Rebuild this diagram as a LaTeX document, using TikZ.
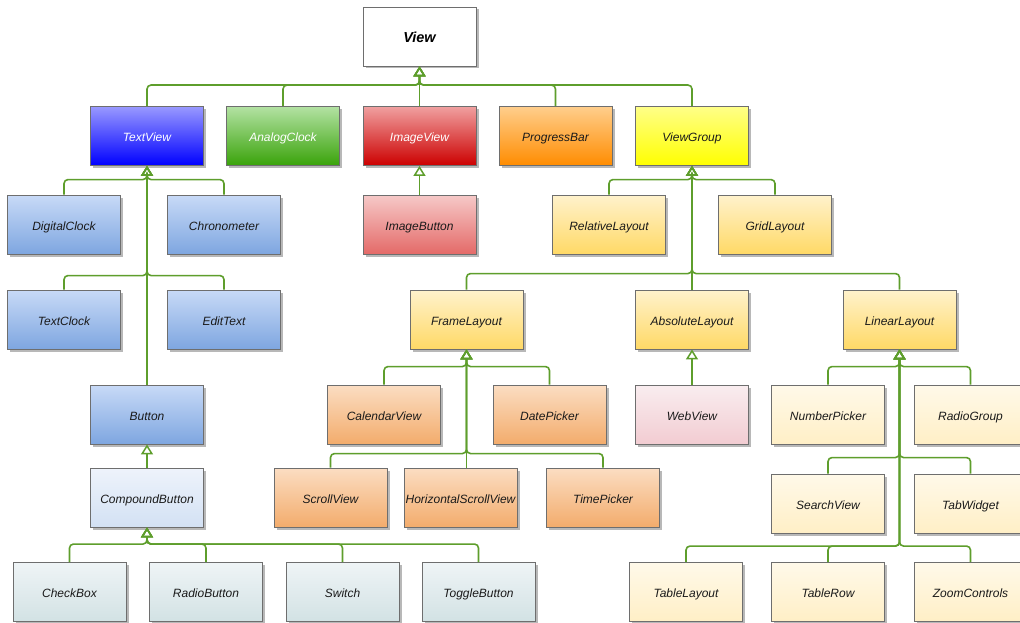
\documentclass[tikz,border=0pt]{standalone}
\usepackage{fontspec}
\setmainfont{Liberation Sans}
\usetikzlibrary{arrows.meta,shadows}
\definecolor{edgegreen}{HTML}{5E9E2C}
\definecolor{boxborder}{HTML}{6E6E6E}
\definecolor{txt}{HTML}{1A1A1A}
\definecolor{HTML9999FF}{HTML}{9999FF}
\definecolor{HTML0000FF}{HTML}{0000FF}
\definecolor{HTMLB3E2A3}{HTML}{B3E2A3}
\definecolor{HTML3AA30A}{HTML}{3AA30A}
\definecolor{HTMLF0A0A0}{HTML}{F0A0A0}
\definecolor{HTMLCC0000}{HTML}{CC0000}
\definecolor{HTMLFFCE8C}{HTML}{FFCE8C}
\definecolor{HTMLFF8C00}{HTML}{FF8C00}
\definecolor{HTMLFFFF88}{HTML}{FFFF88}
\definecolor{HTMLFFFF00}{HTML}{FFFF00}
\definecolor{HTMLC8DAF7}{HTML}{C8DAF7}
\definecolor{HTML7EA6E0}{HTML}{7EA6E0}
\definecolor{HTMLEEF3FB}{HTML}{EEF3FB}
\definecolor{HTMLD3E1F4}{HTML}{D3E1F4}
\definecolor{HTMLEFF4F6}{HTML}{EFF4F6}
\definecolor{HTMLD2E2E4}{HTML}{D2E2E4}
\definecolor{HTMLF6C9C8}{HTML}{F6C9C8}
\definecolor{HTMLE46A68}{HTML}{E46A68}
\definecolor{HTMLFFF2CC}{HTML}{FFF2CC}
\definecolor{HTMLFFD966}{HTML}{FFD966}
\definecolor{HTMLFBDDC2}{HTML}{FBDDC2}
\definecolor{HTMLF3AC6C}{HTML}{F3AC6C}
\definecolor{HTMLF9EDEF}{HTML}{F9EDEF}
\definecolor{HTMLF2CCD2}{HTML}{F2CCD2}
\definecolor{HTMLFFF9E9}{HTML}{FFF9E9}
\definecolor{HTMLFFEFC6}{HTML}{FFEFC6}
\tikzset{
  box/.style={draw=boxborder, line width=0.9pt, minimum width=113pt, minimum height=59pt, inner sep=0pt,
    text height=11pt, text depth=0pt, text=txt,
    font=\fontsize{12}{14}\selectfont\itshape,
    drop shadow={shadow xshift=2.5pt, shadow yshift=-2.5pt, fill=black, opacity=0.28}},
  viewbox/.style={box, fill=white, text=black, text height=12pt, text depth=0pt,
    font=\fontsize{14.5}{16}\selectfont\bfseries\itshape},
  tvbox/.style={box, top color=HTML9999FF, bottom color=HTML0000FF, text=white},
  acbox/.style={box, top color=HTMLB3E2A3, bottom color=HTML3AA30A, text=white},
  ivbox/.style={box, top color=HTMLF0A0A0, bottom color=HTMLCC0000, text=white},
  pbbox/.style={box, top color=HTMLFFCE8C, bottom color=HTMLFF8C00},
  vgbox/.style={box, top color=HTMLFFFF88, bottom color=HTMLFFFF00},
  bluebox/.style={box, top color=HTMLC8DAF7, bottom color=HTML7EA6E0},
  cbbox/.style={box, top color=HTMLEEF3FB, bottom color=HTMLD3E1F4},
  graybox/.style={box, top color=HTMLEFF4F6, bottom color=HTMLD2E2E4},
  ibbox/.style={box, top color=HTMLF6C9C8, bottom color=HTMLE46A68},
  layoutbox/.style={box, top color=HTMLFFF2CC, bottom color=HTMLFFD966},
  orangebox/.style={box, top color=HTMLFBDDC2, bottom color=HTMLF3AC6C},
  wvbox/.style={box, top color=HTMLF9EDEF, bottom color=HTMLF2CCD2},
  palebox/.style={box, top color=HTMLFFF9E9, bottom color=HTMLFFEFC6},
  inh/.style={draw=edgegreen, line width=1.6pt, rounded corners=4pt,
    -{Triangle[open, width=12pt, length=10pt, line width=1.5pt]}},
}
\begin{document}
\begin{tikzpicture}[x=1pt,y=-1pt]
\useasboundingbox[fill=white] (0,0) rectangle (1020,623);
% row 1
\node[viewbox] (view) at (419.5,36.5) {View};
% row 2
\node[tvbox] (tv) at (147,136) {TextView};
\node[acbox] (ac) at (283,136) {AnalogClock};
\node[ivbox] (iv) at (419.5,136) {ImageView};
\node[pbbox] (pb) at (555.5,136) {ProgressBar};
\node[vgbox] (vg) at (692,136) {ViewGroup};
% row 3
\node[bluebox] (dc) at (64,224.5) {DigitalClock};
\node[bluebox] (chr) at (224,224.5) {Chronometer};
\node[ibbox] (ib) at (419.5,224.5) {ImageButton};
\node[layoutbox] (rl) at (609,224.5) {RelativeLayout};
\node[layoutbox] (gl) at (775,224.5) {GridLayout};
% row 4
\node[bluebox] (tc) at (64,319.5) {TextClock};
\node[bluebox] (et) at (224,319.5) {EditText};
\node[layoutbox] (fl) at (466.5,319.5) {FrameLayout};
\node[layoutbox] (al) at (692,319.5) {AbsoluteLayout};
\node[layoutbox] (ll) at (899.5,319.5) {LinearLayout};
% row 5
\node[bluebox] (btn) at (147,414.5) {Button};
\node[orangebox] (cv) at (384,414.5) {CalendarView};
\node[orangebox] (dp) at (549.5,414.5) {DatePicker};
\node[wvbox] (wv) at (692,414.5) {WebView};
\node[palebox] (np) at (828,414.5) {NumberPicker};
\node[palebox] (rg) at (970.5,414.5) {RadioGroup};
% row 6
\node[cbbox] (cb) at (147,497.5) {CompoundButton};
\node[orangebox] (sv) at (330.5,497.5) {ScrollView};
\node[orangebox] (hsv) at (460.5,497.5) {HorizontalScrollView};
\node[orangebox] (tp) at (603,497.5) {TimePicker};
\node[palebox] (srv) at (828,503.5) {SearchView};
\node[palebox] (tw) at (970.5,503.5) {TabWidget};
% row 7
\node[graybox] (chk) at (69.5,592) {CheckBox};
\node[graybox] (rb) at (206,592) {RadioButton};
\node[graybox] (sw) at (342.5,592) {Switch};
\node[graybox] (tb) at (478.5,592) {ToggleButton};
\node[palebox] (tl) at (686,592) {TableLayout};
\node[palebox] (tr) at (828,592) {TableRow};
\node[palebox] (zc) at (970.5,592) {ZoomControls};
% edges to View
\foreach \c in {tv,ac,pb,vg}{\draw[inh] (\c.north) -- ++(0,-21) -| (view.south);}
\draw[inh] (iv.north) -- (view.south);
% TextView
\foreach \c in {dc,chr}{\draw[inh] (\c.north) -- ++(0,-15) -| (tv.south);}
\foreach \c in {tc,et}{\draw[inh] (\c.north) -- ++(0,-14) -| (tv.south);}
\draw[inh] (btn.north) -- (tv.south);
\draw[inh] (cb.north) -- (btn.south);
\foreach \c in {chk,rb,sw,tb}{\draw[inh] (\c.north) -- ++(0,-18) -| (cb.south);}
% ImageView
\draw[inh] (ib.north) -- (iv.south);
% ViewGroup
\foreach \c in {rl,gl}{\draw[inh] (\c.north) -- ++(0,-15) -| (vg.south);}
\foreach \c in {fl,ll}{\draw[inh] (\c.north) -- ++(0,-16) -| (vg.south);}
\draw[inh] (al.north) -- (vg.south);
% FrameLayout
\foreach \c in {cv,dp}{\draw[inh] (\c.north) -- ++(0,-18) -| (fl.south);}
\foreach \c in {sv,tp}{\draw[inh] (\c.north) -- ++(0,-14) -| (fl.south);}
\draw[inh] (hsv.north -| fl.south) -- (fl.south);
% AbsoluteLayout
\draw[inh] (wv.north) -- (al.south);
% LinearLayout
\foreach \c in {np,rg}{\draw[inh] (\c.north) -- ++(0,-18) -| (ll.south);}
\foreach \c in {srv,tw}{\draw[inh] (\c.north) -- ++(0,-16) -| (ll.south);}
\foreach \c in {tl,tr,zc}{\draw[inh] (\c.north) -- ++(0,-16) -| (ll.south);}
\end{tikzpicture}
\end{document}
